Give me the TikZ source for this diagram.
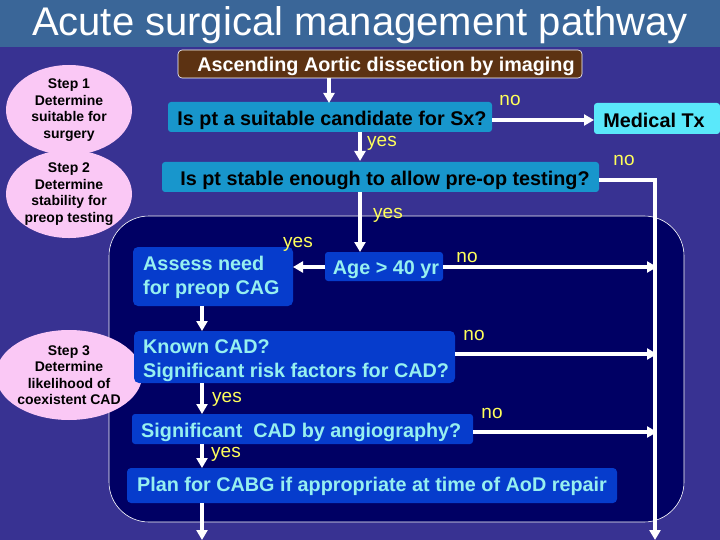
\documentclass[tikz,border=0pt]{standalone}
\usepackage{fontspec}
\setmainfont{Liberation Sans}
\usetikzlibrary{arrows.meta,shapes.geometric}
\definecolor{bg}{RGB}{56,50,146}
\definecolor{titlebar}{RGB}{58,102,152}
\definecolor{brownbox}{RGB}{92,50,18}
\definecolor{qbox}{RGB}{24,150,204}
\definecolor{medbox}{RGB}{90,232,250}
\definecolor{region}{RGB}{0,0,100}
\definecolor{dbox}{RGB}{6,60,204}
\definecolor{dtext}{RGB}{150,240,240}
\definecolor{ylw}{RGB}{255,255,90}
\definecolor{pinkc}{RGB}{250,200,245}
\tikzset{
  x=1pt,y=-1pt,
  arr/.style={draw=white,line width=3.5pt,-{Triangle[width=11pt,length=10pt]}},
  lbl/.style={text=ylw,font=\fontsize{19}{21}\selectfont,inner sep=0pt},
  stepel/.style={ellipse,fill=pinkc,font=\bfseries\fontsize{14}{16.5}\selectfont,align=center,inner sep=0pt},
  boxtxt/.style={font=\bfseries\fontsize{19.8}{24}\selectfont,inner sep=0pt}
}
\begin{document}
\begin{tikzpicture}
\useasboundingbox (0,0) rectangle (720,540);
\fill[bg] (0,0) rectangle (720,540);
\fill[titlebar] (0,0) rectangle (720,47);
\node[text=white,font=\fontsize{40}{44}\selectfont] (title) at (360,25) {Acute surgical management pathway};
% region
\draw[white,line width=0.6pt,fill=region,rounded corners=40pt] (109,216) rectangle (684,522);
% ellipses
\node[stepel,minimum width=126pt,minimum height=90pt] (s1) at (69,110) {Step 1\\Determine\\suitable for\\surgery};
\node[stepel,minimum width=126pt,minimum height=86pt] (s2) at (69,194) {Step 2\\Determine\\stability for\\preop testing};
\node[stepel,minimum width=122pt,minimum height=90pt] (s3) at (69,375) {Step 3\\Determine\\likelihood of\\coexistent CAD};
% boxes
\draw[white,line width=0.6pt,fill=brownbox,rounded corners=4pt] (178,50) rectangle (582,78);
\node[boxtxt,text=white] (asc) at (386,66) {Ascending Aortic dissection by imaging};
\fill[qbox,rounded corners=3pt] (168,102) rectangle (492,132);
\node[boxtxt,text=black] (suit) at (332,120) {Is pt a suitable candidate for Sx?};
\fill[medbox,rounded corners=3pt] (594,103) rectangle (720,134);
\node[boxtxt,text=black] (med) at (654,120) {Medical Tx};
\fill[qbox,rounded corners=3pt] (162,162) rectangle (599,192);
\node[boxtxt,text=black] (stab) at (385,180) {Is pt stable enough to allow pre-op testing?};
\fill[dbox,rounded corners=3pt] (325,252) rectangle (443,281);
\node[boxtxt,text=dtext] (age) at (386,270) {Age > 40 yr};
\fill[dbox,rounded corners=5pt] (133,247) rectangle (293,306);
\node[boxtxt,text=dtext,align=left,anchor=west] (ass) at (143,277) {Assess need\\for preop CAG};
\fill[dbox,rounded corners=5pt] (134,331) rectangle (455,383);
\node[boxtxt,text=dtext,align=left,anchor=west] (known) at (143,361) {Known CAD?\\Significant risk factors for CAD?};
\fill[dbox,rounded corners=3pt] (132,414) rectangle (473,444);
\node[boxtxt,text=dtext,anchor=west] (sig) at (141,432) {Significant\ \ CAD by angiography?};
\fill[dbox,rounded corners=4pt] (127,468) rectangle (617,503);
\node[boxtxt,text=dtext] (plan) at (372,486) {Plan for CABG if appropriate at time of AoD repair};
% coordinates
\coordinate (c1) at (329,78); \coordinate (c2) at (329,103);
\coordinate (c3) at (360,132); \coordinate (c4) at (360,161);
\coordinate (c5) at (492,120); \coordinate (c6) at (594,120);
\coordinate (c7) at (599,180); \coordinate (c8) at (655,180); \coordinate (c9) at (655,540);
\coordinate (c10) at (360,192); \coordinate (c11) at (360,252);
\coordinate (c12) at (325,267); \coordinate (c13) at (293,267);
\coordinate (c14) at (443,267); \coordinate (c15) at (657,267);
\coordinate (c16) at (202,306); \coordinate (c17) at (202,331);
\coordinate (c18) at (455,354); \coordinate (c19) at (657,354);
\coordinate (c20) at (202,383); \coordinate (c21) at (202,414);
\coordinate (c22) at (473,432); \coordinate (c23) at (657,432);
\coordinate (c24) at (202,444); \coordinate (c25) at (202,468);
\coordinate (c26) at (202,503); \coordinate (c27) at (202,540);
\draw[arr] (c1) -- (c2);
\draw[arr] (c3) -- (c4);
\draw[arr] (c5) -- (c6);
\draw[arr] (c7) -- (c8) -- (c9);
\draw[arr] (c10) -- (c11);
\draw[arr] (c12) -- (c13);
\draw[arr] (c14) -- (c15);
\draw[arr] (c16) -- (c17);
\draw[arr] (c18) -- (c19);
\draw[arr] (c20) -- (c21);
\draw[arr] (c22) -- (c23);
\draw[arr] (c24) -- (c25);
\draw[arr] (c26) -- (c27);
% labels
\node[lbl] (l1) at (510,100) {no};
\node[lbl] (l2) at (382,143) {yes};
\node[lbl] (l3) at (624,160) {no};
\node[lbl] (l4) at (388,215) {yes};
\node[lbl] (l5) at (298,244) {yes};
\node[lbl] (l6) at (467,257) {no};
\node[lbl] (l7) at (474,335) {no};
\node[lbl] (l8) at (227,399) {yes};
\node[lbl] (l9) at (492,413) {no};
\node[lbl] (l10) at (226,454) {yes};
\end{tikzpicture}
\end{document}
